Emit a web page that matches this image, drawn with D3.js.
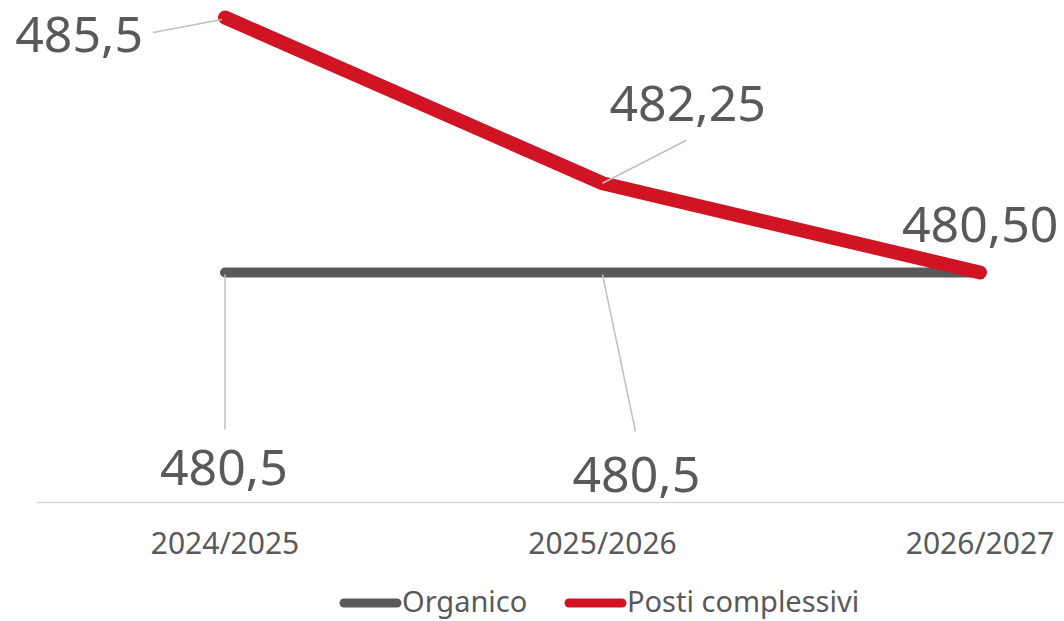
<!DOCTYPE html>
<html>
<head>
<meta charset="utf-8">
<script src="https://cdn.jsdelivr.net/npm/d3@7"></script>
<style>
  body { margin: 0; background: #fff; }
  svg text { font-family: "Noto Sans", "Open Sans", sans-serif; fill: #595959; }
</style>
</head>
<body>
<div class="chart"></div>
<script>
// data
var categories = ["2024/2025", "2025/2026", "2026/2027"];
var organico = [480.5, 480.5, 480.5];
var posti = [485.5, 482.25, 480.5];
var organicoLabels = ["480,5", "480,5"];
var postiLabels = ["485,5", "482,25", "480,50"];
var seriesNames = ["Organico", "Posti complessivi"];

var svgWidth = 1064;
var svgHeight = 621;

var svg = d3.select(".chart")
  .append("svg")
  .attr("width", svgWidth)
  .attr("height", svgHeight);

// band runs past the right edge, like the original
var xScale = d3.scalePoint()
  .domain(categories)
  .range([225, 980]);

var yScale = d3.scaleLinear()
  .domain([476, 486])
  .range([502, -8]);

// baseline
svg.append("line")
  .attr("x1", 37).attr("x2", svgWidth)
  .attr("y1", yScale(476) + 0.5).attr("y2", yScale(476) + 0.5)
  .attr("stroke", "#d9d9d9")
  .attr("stroke-width", 1.5);

// x tick labels
svg.selectAll(".tick-label")
  .data(categories)
  .enter()
  .append("text")
  .attr("class", "tick-label")
  .attr("x", d => xScale(d))
  .attr("y", 554)
  .attr("text-anchor", "middle")
  .style("font-size", "30px")
  .text(d => d);

var line = d3.line()
  .x((d, i) => xScale(categories[i]))
  .y(d => yScale(d));

svg.append("path")
  .datum(organico)
  .attr("d", line)
  .attr("fill", "none")
  .attr("stroke", "#595959")
  .attr("stroke-width", 10)
  .attr("stroke-linecap", "round")
  .attr("stroke-linejoin", "round");

svg.append("path")
  .datum(posti)
  .attr("d", line)
  .attr("fill", "none")
  .attr("stroke", "#d01424")
  .attr("stroke-width", 14)
  .attr("stroke-linecap", "round")
  .attr("stroke-linejoin", "round");

// data labels (offsets from the point) + leader lines
var postiOffsets = [
  { dx: -82, dy: 34, anchor: "end", leader: [[-72, 15], [-3, 2]] },
  { dx: 7, dy: -62, anchor: "start", leader: [[84, -43], [0, 0]] },
  { dx: -78, dy: -31, anchor: "start", leader: null }
];
var organicoOffsets = [
  { dx: -65, dy: 212, anchor: "start", leader: [[0, 2], [0, 157]] },
  { dx: -30, dy: 219, anchor: "start", leader: [[0, 2], [33, 159]] }
];

function drawLabels(values, labels, offsets, cls) {
  labels.forEach(function(lbl, i) {
    var px = xScale(categories[i]);
    var py = yScale(values[i]);
    var o = offsets[i];
    if (o.leader) {
      svg.append("line")
        .attr("x1", px + o.leader[0][0]).attr("y1", py + o.leader[0][1])
        .attr("x2", px + o.leader[1][0]).attr("y2", py + o.leader[1][1])
        .attr("stroke", "#bfbfbf")
        .attr("stroke-width", 1.5);
    }
    svg.append("text")
      .attr("class", cls)
      .attr("x", px + o.dx)
      .attr("y", py + o.dy)
      .attr("text-anchor", o.anchor)
      .style("font-size", "50px")
      .text(lbl);
  });
}
drawLabels(organico, organicoLabels, organicoOffsets, "org-label");
drawLabels(posti, postiLabels, postiOffsets, "posti-label");

// legend
var legendColors = ["#595959", "#d01424"];
var legendX = [344, 569];
var legend = svg.selectAll(".legend")
  .data(seriesNames)
  .enter()
  .append("g")
  .attr("class", "legend")
  .attr("transform", (d, i) => `translate(${legendX[i]}, 603)`);

legend.append("line")
  .attr("x1", 0).attr("x2", 53)
  .attr("y1", 0).attr("y2", 0)
  .attr("stroke", (d, i) => legendColors[i])
  .attr("stroke-width", 9)
  .attr("stroke-linecap", "round");

legend.append("text")
  .attr("x", 58)
  .attr("y", 9)
  .style("font-size", "29px")
  .text(d => d);
</script>
</body>
</html>
